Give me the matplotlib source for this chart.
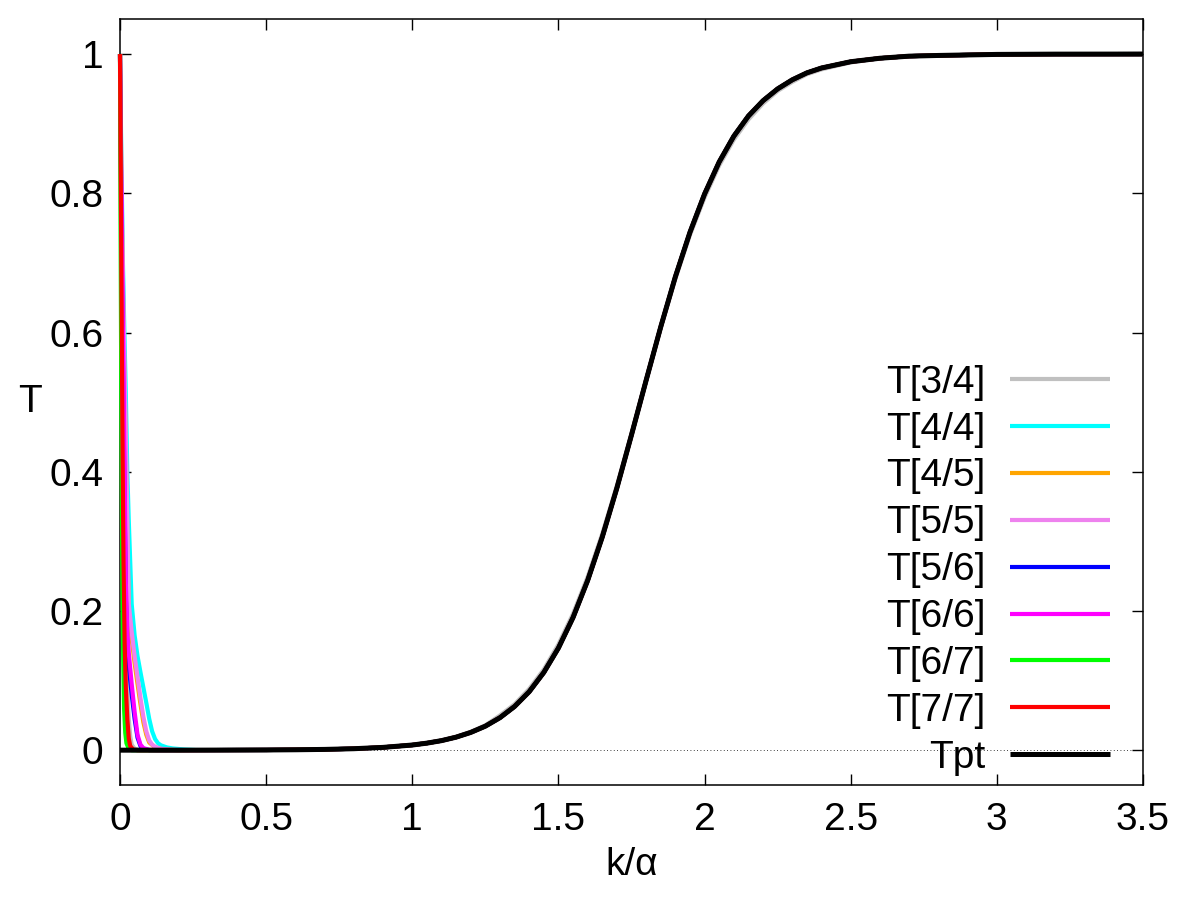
import numpy as np
import matplotlib
matplotlib.use('Agg')
import matplotlib.pyplot as plt

plt.rcParams['font.family'] = ['Liberation Sans', 'DejaVu Sans']

# values
# low-k part of each Pade curve (they blow up to T=1 at k=0)
k_34 = [0, 0.004, 0.008, 0.012, 0.016, 0.02, 0.025, 0.03, 0.035, 0.04, 0.05, 0.07, 0.15]
t_34 = [1.0, 0.70, 0.50, 0.35, 0.24, 0.16, 0.09, 0.045, 0.02, 0.008, 0.002, 0.0, 0.0]

k_44 = [0, 0.005, 0.01, 0.015, 0.02, 0.025, 0.03, 0.035, 0.04, 0.05, 0.06, 0.07, 0.08,
        0.09, 0.1, 0.11, 0.12, 0.13, 0.14, 0.16, 0.18, 0.22, 0.26]
t_44 = [1.0, 0.84, 0.70, 0.60, 0.51, 0.40, 0.33, 0.27, 0.21, 0.165, 0.135, 0.112, 0.09,
        0.068, 0.045, 0.027, 0.016, 0.010, 0.007, 0.004, 0.0025, 0.001, 0.0002]

k_45 = [0, 0.005, 0.01, 0.015, 0.02, 0.025, 0.03, 0.04, 0.05, 0.06, 0.07, 0.08, 0.09, 0.1, 0.12, 0.15, 0.2]
t_45 = [1.0, 0.80, 0.66, 0.54, 0.43, 0.31, 0.20, 0.16, 0.125, 0.095, 0.066, 0.04, 0.022, 0.011, 0.004, 0.001, 0.0]

k_55 = [0, 0.005, 0.01, 0.015, 0.02, 0.025, 0.03, 0.04, 0.05, 0.06, 0.07, 0.08, 0.09,
        0.1, 0.11, 0.12, 0.14, 0.18, 0.25]
t_55 = [1.0, 0.82, 0.68, 0.56, 0.45, 0.33, 0.21, 0.17, 0.135, 0.105, 0.075, 0.048, 0.027,
        0.014, 0.008, 0.005, 0.002, 0.0005, 0.0]

k_56 = [0, 0.005, 0.01, 0.015, 0.02, 0.025, 0.03, 0.04, 0.05, 0.06, 0.07, 0.08, 0.1, 0.15]
t_56 = [1.0, 0.75, 0.56, 0.38, 0.22, 0.15, 0.12, 0.08, 0.045, 0.018, 0.006, 0.002, 0.0, 0.0]

k_66 = [0, 0.005, 0.01, 0.015, 0.02, 0.025, 0.03, 0.04, 0.05, 0.06, 0.07, 0.08, 0.1, 0.13]
t_66 = [1.0, 0.78, 0.60, 0.42, 0.24, 0.17, 0.14, 0.095, 0.055, 0.022, 0.008, 0.003, 0.0005, 0.0]

k_67 = [0, 0.002, 0.004, 0.006, 0.008, 0.011, 0.014, 0.018, 0.022, 0.03, 0.04, 0.1]
t_67 = [1.0, 0.75, 0.55, 0.38, 0.25, 0.13, 0.06, 0.025, 0.01, 0.002, 0.0, 0.0]

k_77 = [0, 0.003, 0.006, 0.009, 0.012, 0.016, 0.02, 0.025, 0.03, 0.035, 0.045, 0.06, 0.1]
t_77 = [1.0, 0.80, 0.60, 0.42, 0.27, 0.15, 0.09, 0.045, 0.017, 0.006, 0.001, 0.0, 0.0]

k_pt = [0, 0.1, 0.2]
t_pt = [0.0, 0.0, 0.0]

# the rising part, shared by all curves
k_hi = [0.3, 0.4, 0.5, 0.6, 0.7, 0.8, 0.9, 1.0, 1.05, 1.1, 1.15, 1.2, 1.25, 1.3, 1.35,
        1.4, 1.45, 1.5, 1.55, 1.6, 1.65, 1.7, 1.75, 1.8, 1.85, 1.9, 1.95, 2.0, 2.05,
        2.1, 2.15, 2.2, 2.25, 2.3, 2.35, 2.4, 2.5, 2.6, 2.7, 2.8, 3.0, 3.2, 3.5]
t_hi = [0.0001, 0.0002, 0.0003, 0.0006, 0.0011, 0.0021, 0.004, 0.0074, 0.0101, 0.0137,
        0.0187, 0.0255, 0.0345, 0.0467, 0.0628, 0.084, 0.1117, 0.1468, 0.1906, 0.2438,
        0.3062, 0.3766, 0.4529, 0.5312, 0.608, 0.680, 0.744, 0.799, 0.845, 0.882, 0.911,
        0.933, 0.950, 0.963, 0.973, 0.980, 0.989, 0.994, 0.997, 0.998, 0.9995, 0.9999, 1.0]
# T[3/4] is a hair off the others on the slope
t_hi_34 = [0.0001, 0.0002, 0.0003, 0.0006, 0.0011, 0.0021, 0.004, 0.0076, 0.0104, 0.0141,
           0.0193, 0.0263, 0.0357, 0.050, 0.066, 0.088, 0.116, 0.152, 0.196, 0.249,
           0.311, 0.380, 0.455, 0.532, 0.607, 0.677, 0.740, 0.794, 0.840, 0.877, 0.906,
           0.929, 0.947, 0.960, 0.971, 0.978, 0.988, 0.994, 0.997, 0.998, 0.9995, 0.9999, 1.0]

labels = ['T[3/4]', 'T[4/4]', 'T[4/5]', 'T[5/5]', 'T[5/6]', 'T[6/6]', 'T[6/7]', 'T[7/7]', 'Tpt']
colors = ['#c0c0c0', '#00ffff', '#ffa500', '#ee82ee', '#0000ff', '#ff00ff', '#00ff00', '#ff0000', '#000000']
k_low = [k_34, k_44, k_45, k_55, k_56, k_66, k_67, k_77, k_pt]
t_low = [t_34, t_44, t_45, t_55, t_56, t_66, t_67, t_77, t_pt]

fig = plt.figure(figsize=(12, 9), dpi=100)
ax = fig.add_axes([0.1, 0.1278, 0.8525, 0.8508])

ax.axhline(0, color='black', lw=0.6, ls=(0, (1, 3)), zorder=1)

for i in range(len(labels)):
    hi = t_hi_34 if i == 0 else t_hi
    k = np.concatenate([k_low[i], k_hi])
    t = np.concatenate([t_low[i], hi])
    lw = 3.6 if labels[i] == 'Tpt' else 3.0
    ax.plot(k, t, color=colors[i], lw=lw, label=labels[i], zorder=2 + i,
            clip_on=False, solid_capstyle='butt')

ax.set_xlim(0, 3.5)
ax.set_ylim(-0.05, 1.05)
ax.set_xticks(np.arange(0, 3.51, 0.5))
ax.set_yticks(np.arange(0, 1.01, 0.2))
ax.set_xticklabels(['0', '0.5', '1', '1.5', '2', '2.5', '3', '3.5'])
ax.set_yticklabels(['0', '0.2', '0.4', '0.6', '0.8', '1'])
ax.tick_params(direction='in', top=True, right=True, length=8, width=1,
               labelsize=28, pad=12)
for s in ax.spines.values():
    s.set_linewidth(1.1)

ax.set_xlabel('k/α', fontsize=28, va='center')
ax.xaxis.set_label_coords(0.5, -0.104)
ax.set_ylabel('T', fontsize=28, rotation=0, ha='center', va='center')
ax.yaxis.set_label_coords(-0.088, 0.5)

ax.legend(loc='lower right', bbox_to_anchor=(0.968, 0.012), frameon=False,
          markerfirst=False, fontsize=28, handlelength=2.57, handletextpad=0.64,
          labelspacing=0.28, borderpad=0, borderaxespad=0)

plt.savefig('out.png', dpi=100)
